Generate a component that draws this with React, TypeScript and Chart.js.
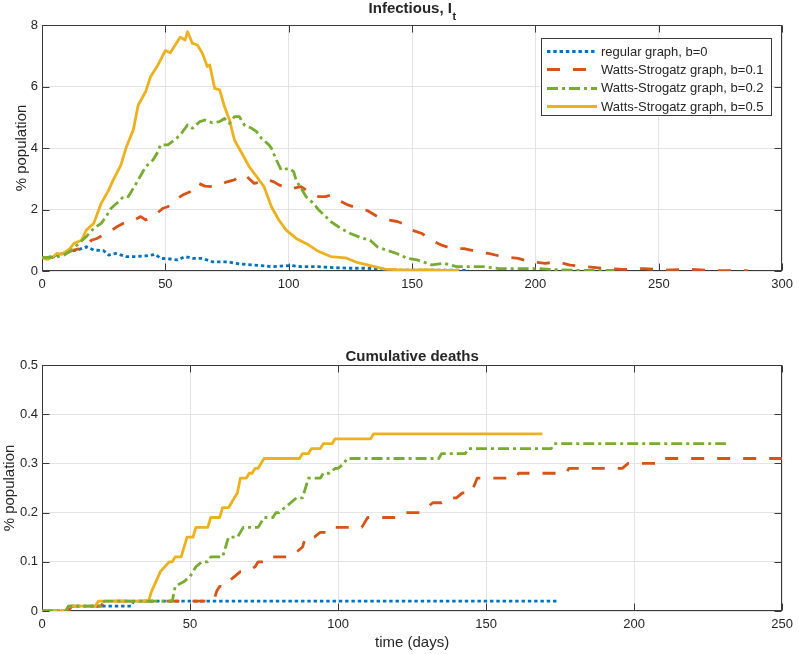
import React, { useEffect, useRef } from "react";
import { Chart, registerables } from "chart.js";

Chart.register(...registerables);

// ---------- series meta ----------
const seriesLabels = [
  "regular graph, b=0",
  "Watts-Strogatz graph, b=0.1",
  "Watts-Strogatz graph, b=0.2",
  "Watts-Strogatz graph, b=0.5",
];
const seriesColors = ["#0072BD", "#D95319", "#77AC30", "#EDB120"];
const seriesDashes: number[][] = [[3.4, 2.9], [13, 13], [11, 4, 3, 4], []];
const seriesOrder = [3, 2, 0, 1];

// ---------- Infectious, I_t (day, % population) ----------
const infectiousB0: [number, number][] = [
  [0, 0.44], [3, 0.45], [6, 0.52], [9, 0.58], [11, 0.63], [15, 0.7], [18, 0.79], [21, 0.68],
  [25, 0.66], [27, 0.52], [30, 0.57], [34, 0.47], [38, 0.47], [42, 0.49], [46, 0.54], [48, 0.41],
  [52, 0.39], [55, 0.36], [58, 0.47], [61, 0.41], [65, 0.41], [69, 0.3], [75, 0.3], [80, 0.23],
  [85, 0.2], [91, 0.16], [93, 0.14], [97, 0.16], [101, 0.18], [105, 0.14], [112, 0.14], [118, 0.11],
  [125, 0.09], [132, 0.09], [139, 0.05], [145, 0.03], [155, 0.03], [165, 0.03], [173, 0.02],
];
const infectiousB01: [number, number][] = [
  [0, 0.44], [4, 0.44], [8, 0.52], [12, 0.66], [15, 0.72], [18, 0.81], [20, 1.0], [22, 1.05],
  [25, 1.17], [28, 1.31], [30, 1.42], [33, 1.55], [36, 1.6], [40, 1.77], [42, 1.66], [45, 1.77],
  [49, 2.04], [51, 2.09], [54, 2.31], [57, 2.47], [60, 2.58], [63, 2.87], [66, 2.76], [69, 2.74],
  [72, 2.8], [75, 2.9], [78, 2.96], [80, 3.12], [83, 3.07], [86, 2.85], [89, 2.9], [91, 2.98],
  [94, 2.9], [96, 2.8], [99, 2.72], [101, 2.74], [102, 2.69], [105, 2.74], [108, 2.58], [112, 2.42],
  [115, 2.42], [117, 2.47], [120, 2.31], [124, 2.15], [128, 2.04], [132, 1.96], [136, 1.77], [140, 1.66],
  [144, 1.61], [146, 1.55], [150, 1.33], [154, 1.22], [158, 1.0], [162, 0.84], [166, 0.73], [171, 0.73],
  [177, 0.62], [181, 0.57], [187, 0.46], [193, 0.41], [198, 0.3], [204, 0.25], [209, 0.3], [214, 0.19],
  [221, 0.14], [228, 0.08], [236, 0.05], [244, 0.08], [252, 0.03], [263, 0.05], [273, 0.01], [286, 0.01],
];
const infectiousB02: [number, number][] = [
  [0, 0.44], [5, 0.44], [9, 0.52], [12, 0.68], [15, 0.9], [18, 1.12], [21, 1.39], [24, 1.55],
  [26, 1.77], [28, 2.04], [31, 2.25], [33, 2.42], [35, 2.42], [37, 2.69], [39, 2.96], [42, 3.39],
  [45, 3.61], [47, 3.88], [48, 4.1], [51, 4.1], [54, 4.28], [56, 4.42], [59, 4.75], [61, 4.64],
  [64, 4.86], [66, 4.91], [69, 4.82], [72, 4.86], [74, 4.96], [76, 4.8], [78, 5.02], [80, 5.02],
  [82, 4.75], [85, 4.64], [87, 4.53], [89, 4.31], [92, 4.1], [93, 3.99], [95, 3.61], [97, 3.28],
  [100, 3.34], [102, 3.23], [103, 2.95], [105, 2.69], [107, 2.42], [110, 2.2], [112, 2.0], [115, 1.77],
  [117, 1.61], [121, 1.39], [125, 1.22], [129, 1.09], [133, 1.0], [136, 0.78], [140, 0.67], [144, 0.56],
  [148, 0.41], [152, 0.36], [158, 0.2], [163, 0.25], [168, 0.14], [174, 0.14], [179, 0.14], [185, 0.08],
  [190, 0.08], [195, 0.08], [201, 0.08], [209, 0.04], [217, 0.02], [225, 0.02], [232, 0.02],
];
const infectiousB05: [number, number][] = [
  [0, 0.44], [2, 0.38], [4, 0.44], [6, 0.57], [8, 0.55], [11, 0.7], [13, 0.9], [16, 1.0],
  [18, 1.33], [21, 1.55], [24, 2.2], [27, 2.63], [29, 2.98], [32, 3.45], [34, 3.99], [37, 4.59],
  [39, 5.4], [42, 5.83], [44, 6.32], [47, 6.7], [50, 7.17], [52, 7.1], [54, 7.35], [56, 7.6],
  [58, 7.51], [59, 7.78], [61, 7.4], [63, 7.35], [65, 7.08], [67, 6.65], [68, 6.7], [70, 5.94],
  [72, 5.89], [74, 5.34], [76, 4.91], [78, 4.26], [81, 3.83], [84, 3.39], [87, 3.07], [90, 2.74],
  [93, 2.09], [96, 1.66], [99, 1.33], [103, 1.06], [108, 0.85], [112, 0.64], [117, 0.47], [123, 0.43],
  [128, 0.27], [134, 0.16], [139, 0.06], [144, 0.04], [150, 0.03], [156, 0.04], [162, 0.02], [169, 0.02],
];

// ---------- Cumulative deaths (day, % population) ----------
const deathsB0: [number, number][] = [
  [0, 0], [9, 0], [10, 0.01], [30, 0.01], [31, 0.02], [174, 0.02],
];
const deathsB01: [number, number][] = [
  [0, 0], [9, 0], [10, 0.01], [20, 0.01], [21, 0.02], [58, 0.02], [59, 0.04], [60, 0.05],
  [62, 0.05], [63, 0.06], [65, 0.07], [67, 0.08], [69, 0.08], [72, 0.09], [73, 0.1], [76, 0.1],
  [77, 0.11], [84, 0.11], [86, 0.12], [88, 0.13], [89, 0.15], [92, 0.15], [94, 0.16], [96, 0.16],
  [97, 0.17], [108, 0.17], [110, 0.19], [121, 0.19], [123, 0.2], [128, 0.2], [130, 0.21], [132, 0.22],
  [135, 0.22], [137, 0.23], [140, 0.23], [142, 0.24], [145, 0.24], [147, 0.27], [160, 0.27], [161, 0.28],
  [177, 0.28], [178, 0.29], [196, 0.29], [198, 0.3], [208, 0.3], [209, 0.31], [286, 0.31],
];
const deathsB02: [number, number][] = [
  [0, 0], [8, 0], [9, 0.01], [20, 0.01], [21, 0.02], [44, 0.02], [45, 0.05], [48, 0.06],
  [50, 0.07], [52, 0.09], [54, 0.1], [56, 0.1], [57, 0.11], [61, 0.11], [62, 0.13], [63, 0.15],
  [66, 0.15], [68, 0.17], [73, 0.17], [75, 0.19], [78, 0.19], [79, 0.2], [80, 0.2], [82, 0.21],
  [84, 0.22], [86, 0.23], [88, 0.23], [90, 0.27], [94, 0.27], [95, 0.28], [97, 0.28], [99, 0.29],
  [100, 0.29], [102, 0.3], [103, 0.31], [134, 0.31], [135, 0.32], [143, 0.32], [144, 0.33], [172, 0.33],
  [173, 0.34], [231, 0.34],
];
const deathsB05: [number, number][] = [
  [0, 0], [8, 0], [9, 0.01], [18, 0.01], [19, 0.02], [36, 0.02], [37, 0.04], [40, 0.08],
  [43, 0.1], [44, 0.1], [45, 0.11], [47, 0.11], [48, 0.13], [49, 0.15], [51, 0.15], [52, 0.17],
  [56, 0.17], [57, 0.19], [60, 0.19], [61, 0.21], [63, 0.21], [64, 0.22], [65, 0.23], [66, 0.24],
  [67, 0.27], [69, 0.27], [70, 0.28], [71, 0.28], [72, 0.29], [73, 0.29], [75, 0.31], [87, 0.31],
  [88, 0.32], [90, 0.32], [91, 0.33], [94, 0.33], [95, 0.34], [98, 0.34], [99, 0.35], [111, 0.35],
  [112, 0.36], [169, 0.36],
];

// ---------- axes ----------
const infXRange = [0, 300];
const infXStep = 50;
const infYRange = [0, 8];
const infYStep = 2;
const deathXRange = [0, 250];
const deathXStep = 50;
const deathYRange = [0, 0.5];
const deathYStep = 0.1;

const FONT = "'Liberation Sans', Arial, Helvetica, sans-serif";
const TEXT = "#262626";
const AXIS = "#3a3a3a";
const GRID = "#e4e4e4";

type FrameOpts = {
  title: string;
  sub?: string;
  titleY: number;
  yLabel: string;
  yLabelX: number;
  xLabel?: string;
  xLabelY?: number;
  legend?: boolean;
};

const framePlugin = {
  id: "frame",
  beforeDatasetsDraw(chart: any) {
    const { ctx, chartArea: a, scales } = chart;
    const L = Math.round(a.left) + 0.5;
    const R = Math.round(a.right) - 0.5;
    const T = Math.round(a.top) + 0.5;
    const B = Math.round(a.bottom) - 0.5;
    ctx.save();
    ctx.strokeStyle = AXIS;
    ctx.lineWidth = 1;
    ctx.strokeRect(L, T, R - L, B - T);
    const tl = 7;
    ctx.beginPath();
    scales.x.ticks.forEach((t: any) => {
      const px = Math.round(scales.x.getPixelForValue(t.value)) + 0.5;
      ctx.moveTo(px, B);
      ctx.lineTo(px, B - tl);
      ctx.moveTo(px, T);
      ctx.lineTo(px, T + tl);
    });
    scales.y.ticks.forEach((t: any) => {
      const py = Math.round(scales.y.getPixelForValue(t.value)) + 0.5;
      ctx.moveTo(L, py);
      ctx.lineTo(L + tl, py);
      ctx.moveTo(R, py);
      ctx.lineTo(R - tl, py);
    });
    ctx.stroke();
    ctx.restore();
  },
  afterDraw(chart: any, _args: any, opts: FrameOpts) {
    const { ctx, chartArea: a } = chart;
    const cx = (a.left + a.right) / 2;
    ctx.save();
    ctx.fillStyle = TEXT;
    // title
    ctx.font = `bold 15px ${FONT}`;
    const w1 = ctx.measureText(opts.title).width;
    let w2 = 0;
    if (opts.sub) {
      ctx.font = `bold 11px ${FONT}`;
      w2 = ctx.measureText(opts.sub).width;
    }
    const sx = cx - (w1 + w2) / 2;
    ctx.textAlign = "left";
    ctx.textBaseline = "alphabetic";
    ctx.font = `bold 15px ${FONT}`;
    ctx.fillText(opts.title, sx, opts.titleY);
    if (opts.sub) {
      ctx.font = `bold 11px ${FONT}`;
      ctx.fillText(opts.sub, sx + w1 + 0.5, opts.titleY + 7);
    }
    // y label
    ctx.font = `15px ${FONT}`;
    ctx.save();
    ctx.translate(opts.yLabelX, (a.top + a.bottom) / 2);
    ctx.rotate(-Math.PI / 2);
    ctx.textAlign = "center";
    ctx.fillText(opts.yLabel, 0, 0);
    ctx.restore();
    // x label
    if (opts.xLabel) {
      ctx.textAlign = "center";
      ctx.fillText(opts.xLabel, cx, opts.xLabelY as number);
    }
    // legend
    if (opts.legend) {
      const bx = 541.5, by = 38.5, bw = 230, bh = 77;
      ctx.fillStyle = "#ffffff";
      ctx.fillRect(bx, by, bw, bh);
      ctx.strokeStyle = AXIS;
      ctx.lineWidth = 1;
      ctx.strokeRect(bx, by, bw, bh);
      ctx.font = `13px ${FONT}`;
      ctx.textAlign = "left";
      ctx.textBaseline = "middle";
      seriesLabels.forEach((lab, i) => {
        const y = 51 + i * 18.4;
        ctx.save();
        ctx.strokeStyle = seriesColors[i];
        ctx.lineWidth = 2.8;
        ctx.lineCap = "butt";
        ctx.setLineDash(seriesDashes[i]);
        ctx.beginPath();
        ctx.moveTo(547, Math.round(y) + 0.5);
        ctx.lineTo(597, Math.round(y) + 0.5);
        ctx.stroke();
        ctx.restore();
        ctx.fillStyle = TEXT;
        ctx.fillText(lab, 601, y + 1);
      });
    }
    ctx.restore();
  },
};

function makeDatasets(series: [number, number][][]) {
  return series.map((pts, i) => ({
    label: seriesLabels[i],
    data: pts.map(([x, y]) => ({ x, y })),
    borderColor: seriesColors[i],
    backgroundColor: seriesColors[i],
    borderWidth: 2.8,
    borderDash: seriesDashes[i],
    borderCapStyle: "butt" as const,
    borderJoinStyle: "round" as const,
    pointRadius: 0,
    tension: 0,
    fill: false,
    order: seriesOrder[i],
  }));
}

function makeConfig(
  series: [number, number][][],
  xRange: number[],
  xStep: number,
  yRange: number[],
  yStep: number,
  canvasH: number,
  top: number,
  bottom: number,
  frame: FrameOpts,
  yFmt: (v: number) => string
): any {
  return {
    type: "line",
    data: { datasets: makeDatasets(series) },
    options: {
      responsive: false,
      maintainAspectRatio: false,
      animation: false,
      devicePixelRatio: 1,
      layout: { padding: { top, right: 13, left: 0, bottom: 0 } },
      plugins: {
        legend: { display: false },
        tooltip: { enabled: false },
        title: { display: false },
        frame,
      },
      scales: {
        x: {
          type: "linear",
          min: xRange[0],
          max: xRange[1],
          border: { display: false },
          grid: { color: GRID, lineWidth: 1, drawTicks: false },
          ticks: {
            stepSize: xStep,
            autoSkip: false,
            maxRotation: 0,
            padding: 6,
            color: TEXT,
            font: { family: FONT, size: 13 },
          },
          afterFit: (s: any) => {
            s.height = canvasH - bottom;
          },
        },
        y: {
          type: "linear",
          min: yRange[0],
          max: yRange[1],
          border: { display: false },
          grid: { color: GRID, lineWidth: 1, drawTicks: false },
          ticks: {
            stepSize: yStep,
            autoSkip: false,
            padding: 4,
            color: TEXT,
            font: { family: FONT, size: 13 },
            callback: (v: any) => yFmt(Number(v)),
          },
          afterFit: (s: any) => {
            s.width = 42;
          },
        },
      },
    },
    plugins: [framePlugin],
  };
}

export default function App() {
  const topRef = useRef<HTMLCanvasElement | null>(null);
  const botRef = useRef<HTMLCanvasElement | null>(null);

  useEffect(() => {
    const c1 = new Chart(
      topRef.current as HTMLCanvasElement,
      makeConfig(
        [infectiousB0, infectiousB01, infectiousB02, infectiousB05],
        infXRange,
        infXStep,
        infYRange,
        infYStep,
        330,
        25,
        271,
        {
          title: "Infectious, I",
          sub: "t",
          titleY: 13,
          yLabel: "% population",
          yLabelX: 25.5,
          legend: true,
        },
        (v) => String(Math.round(v))
      )
    );
    const c2 = new Chart(
      botRef.current as HTMLCanvasElement,
      makeConfig(
        [deathsB0, deathsB01, deathsB02, deathsB05],
        deathXRange,
        deathXStep,
        deathYRange,
        deathYStep,
        324,
        35,
        281,
        {
          title: "Cumulative deaths",
          titleY: 30.7,
          yLabel: "% population",
          yLabelX: 14,
          xLabel: "time (days)",
          xLabelY: 317,
        },
        (v) => String(Math.round(v * 10) / 10)
      )
    );
    return () => {
      c1.destroy();
      c2.destroy();
    };
  }, []);

  return (
    <div style={{ position: "absolute", left: 0, top: 0, width: 799, height: 654, background: "#fff" }}>
      <canvas
        ref={topRef}
        width={799}
        height={330}
        style={{ position: "absolute", left: 0, top: 0, width: 799, height: 330, display: "block" }}
      />
      <canvas
        ref={botRef}
        width={799}
        height={324}
        style={{ position: "absolute", left: 0, top: 330, width: 799, height: 324, display: "block" }}
      />
    </div>
  );
}
